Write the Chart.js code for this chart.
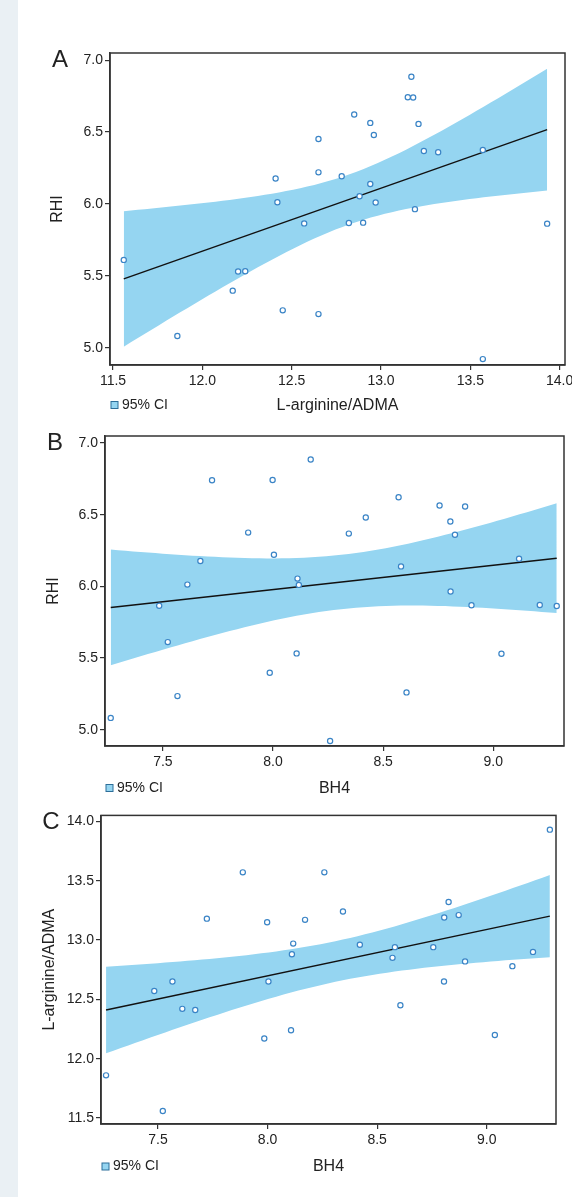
<!DOCTYPE html>
<html>
<head>
<meta charset="utf-8">
<title>RHI, BH4 and L-arginine/ADMA</title>
<script src="https://cdn.jsdelivr.net/npm/chart.js@4.4.1/dist/chart.umd.min.js"></script>
<style>
  html, body { margin: 0; padding: 0; background: #fff; }
  body { width: 572px; height: 1197px; position: relative; overflow: hidden; }
  .strip { position: absolute; left: 0; top: 0; width: 18px; height: 1197px; background: #eaf0f4; }
  canvas { position: absolute; left: 0; }
</style>
</head>
<body>
<div class="strip"></div>
<canvas id="chartA" width="600" height="425" style="top:0"></canvas>
<canvas id="chartB" width="600" height="390" style="top:420px"></canvas>
<canvas id="chartC" width="600" height="392" style="top:805px"></canvas>

<script>
// ===== DATA (one value per patient, same order in every array) =====
const bh4 = [8.171, 7.723, 7.998, 8.570, 8.581, 8.756, 8.872, 8.421, 8.805, 8.806, 8.826,
             8.344, 7.887, 8.004, 9.117, 7.670, 8.111, 7.611, 8.117, 7.483, 8.901, 9.211,
             9.288, 7.522, 8.107, 9.037, 7.985, 8.606, 7.566, 7.263, 8.259];
const argAdma = [13.17, 13.18, 13.15, 12.85, 12.94, 12.94, 13.21, 12.96, 12.65, 13.19, 13.32,
                 13.24, 13.57, 12.65, 12.78, 12.41, 12.88, 12.42, 12.97, 12.57, 12.82, 12.90,
                 13.93, 11.56, 12.24, 12.20, 12.17, 12.45, 12.65, 11.86, 13.57];
const rhi = [6.885, 6.740, 6.742, 6.622, 6.139, 6.564, 6.557, 6.480, 6.452, 5.964, 6.360,
             6.368, 6.375, 6.220, 6.193, 6.177, 6.054, 6.012, 6.010, 5.865, 5.868, 5.870,
             5.863, 5.611, 5.532, 5.530, 5.397, 5.260, 5.234, 5.082, 4.921];

// tick labels
const ticksArgAdma = [11.5, 12.0, 12.5, 13.0, 13.5, 14.0];
const ticksRhi = [5.0, 5.5, 6.0, 6.5, 7.0];
const ticksBh4 = [7.5, 8.0, 8.5, 9.0];

const T_CRIT = 2.045; // t(0.975), df = 29
const FONT = "'Liberation Sans', Arial, Helvetica, sans-serif";
const BAND_COLOR = "#95d5f1";
const POINT_COLOR = "#3a84c6";
const AXIS_COLOR = "#333";
const TEXT_COLOR = "#222";
const CANVAS_W = 600; // wider than the page so the last x label never squeezes the plot

// ===== LINEAR FIT + 95% CI OF THE MEAN =====
function fitLine(xs, ys) {
  const n = xs.length;
  const mx = xs.reduce((a, b) => a + b, 0) / n;
  const my = ys.reduce((a, b) => a + b, 0) / n;
  let sxx = 0, sxy = 0;
  xs.forEach((x, i) => {
    sxx += (x - mx) ** 2;
    sxy += (x - mx) * (ys[i] - my);
  });
  const slope = sxy / sxx;
  const icpt = my - slope * mx;
  let sse = 0;
  xs.forEach((x, i) => { sse += (ys[i] - icpt - slope * x) ** 2; });
  const s = Math.sqrt(sse / (n - 2));
  return { n, mx, sxx, slope, icpt, s };
}

// frame, panel letter and "95% CI" key
const panelDecor = {
  id: "panelDecor",
  afterDraw(chart, args, opts) {
    const { ctx, chartArea: a } = chart;
    ctx.save();
    ctx.strokeStyle = AXIS_COLOR;
    ctx.lineWidth = 1.5;
    ctx.strokeRect(a.left, a.top, a.right - a.left, a.bottom - a.top);

    ctx.fillStyle = TEXT_COLOR;
    ctx.font = "24px " + FONT;
    ctx.textAlign = "center";
    ctx.textBaseline = "middle";
    ctx.fillText(opts.letter, a.left - 50, a.top + 7);

    const y = opts.keyY;
    ctx.fillStyle = BAND_COLOR;
    ctx.fillRect(a.left + 1, y - 3.5, 7, 7);
    ctx.strokeStyle = "#2d6e99";
    ctx.lineWidth = 1;
    ctx.strokeRect(a.left + 1, y - 3.5, 7, 7);
    ctx.fillStyle = TEXT_COLOR;
    ctx.font = "14px " + FONT;
    ctx.textAlign = "left";
    ctx.fillText("95% CI", a.left + 12, y);
    ctx.restore();
  }
};

// ===== PANEL =====
function makePanel(id, p) {
  const fit = fitLine(p.xs, p.ys);
  const xLo = Math.min(...p.xs), xHi = Math.max(...p.xs);
  const points = p.xs.map((x, i) => ({ x, y: p.ys[i] }));
  const line = [xLo, xHi].map(x => ({ x, y: fit.icpt + fit.slope * x }));

  const upper = [], lower = [];
  const steps = 60;
  for (let k = 0; k <= steps; k++) {
    const x = xLo + (xHi - xLo) * k / steps;
    const yh = fit.icpt + fit.slope * x;
    const half = T_CRIT * fit.s * Math.sqrt(1 / fit.n + (x - fit.mx) ** 2 / fit.sxx);
    upper.push({ x, y: yh + half });
    lower.push({ x, y: yh - half });
  }

  new Chart(document.getElementById(id), {
    type: "scatter",
    data: {
      datasets: [
        { data: points, pointRadius: 2.6, pointBorderWidth: 1.2,
          borderColor: POINT_COLOR, backgroundColor: "#fff", order: 0 },
        { type: "line", data: line, borderColor: "#111", borderWidth: 1.4,
          pointRadius: 0, fill: false, order: 1 },
        { type: "line", data: upper, borderWidth: 0, pointRadius: 0,
          backgroundColor: BAND_COLOR, fill: "+1", order: 2 },
        { type: "line", data: lower, borderWidth: 0, pointRadius: 0,
          fill: false, order: 3 }
      ]
    },
    options: {
      responsive: false,
      animation: false,
      layout: { padding: { top: p.top, right: CANVAS_W - p.right, bottom: p.bottom, left: 0 } },
      plugins: {
        legend: { display: false },
        tooltip: { enabled: false },
        panelDecor: { letter: p.letter, keyY: p.keyY }
      },
      scales: {
        x: {
          type: "linear",
          min: p.xMin, max: p.xMax,
          afterBuildTicks: s => { s.ticks = p.xTicks.map(v => ({ value: v })); },
          afterFit: s => { s.height = p.xAxisH; },
          ticks: { autoSkip: false, maxRotation: 0, padding: 3, color: TEXT_COLOR,
                   font: { family: FONT, size: 14 }, callback: v => v.toFixed(1) },
          grid: { drawOnChartArea: false, tickLength: 5, color: AXIS_COLOR, lineWidth: 1.2 },
          border: { color: AXIS_COLOR, width: 1.5 },
          title: { display: true, text: p.xTitle, color: TEXT_COLOR, padding: 0,
                   font: { family: FONT, size: 16 } }
        },
        y: {
          type: "linear",
          min: p.yMin, max: p.yMax,
          afterBuildTicks: s => { s.ticks = p.yTicks.map(v => ({ value: v })); },
          afterFit: s => { s.width = p.yAxisW; },
          ticks: { autoSkip: false, padding: 2, color: TEXT_COLOR,
                   font: { family: FONT, size: 14 }, callback: v => v.toFixed(1) },
          grid: { drawOnChartArea: false, tickLength: 5, color: AXIS_COLOR, lineWidth: 1.2 },
          border: { color: AXIS_COLOR, width: 1.5 },
          title: { display: true, text: p.yTitle, color: TEXT_COLOR,
                   padding: { top: p.yTitlePad, bottom: 0 },
                   font: { family: FONT, size: 16 } }
        }
      }
    },
    plugins: [panelDecor]
  });
}

// ===== A: RHI vs L-arginine/ADMA =====
makePanel("chartA", {
  letter: "A", xs: argAdma, ys: rhi,
  xMin: 11.483, xMax: 14.03, xTicks: ticksArgAdma, xTitle: "L-arginine/ADMA",
  yMin: 4.88, yMax: 7.05, yTicks: ticksRhi, yTitle: "RHI",
  top: 53, right: 565, bottom: 10,
  yAxisW: 110, xAxisH: 50, yTitlePad: 48, keyY: 405
});

// ===== B: RHI vs BH4 =====
makePanel("chartB", {
  letter: "B", xs: bh4, ys: rhi,
  xMin: 7.237, xMax: 9.321, xTicks: ticksBh4, xTitle: "BH4",
  yMin: 4.886, yMax: 7.049, yTicks: ticksRhi, yTitle: "RHI",
  top: 16, right: 564, bottom: 12,
  yAxisW: 105, xAxisH: 52, yTitlePad: 44, keyY: 368
});

// ===== C: L-arginine/ADMA vs BH4 =====
makePanel("chartC", {
  letter: "C", xs: bh4, ys: argAdma,
  xMin: 7.24, xMax: 9.316, xTicks: ticksBh4, xTitle: "BH4",
  yMin: 11.45, yMax: 14.05, yTicks: ticksArgAdma, yTitle: "L-arginine/ADMA",
  top: 9, right: 556, bottom: 21,
  yAxisW: 101, xAxisH: 52, yTitlePad: 40, keyY: 361.5
});
</script>
</body>
</html>
